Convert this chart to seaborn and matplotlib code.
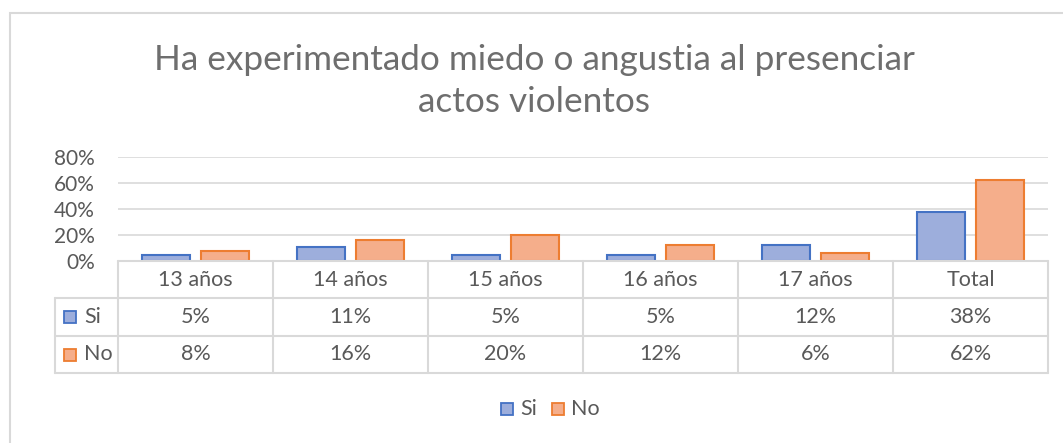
import pandas as pd
import matplotlib.pyplot as plt
import seaborn as sns
from matplotlib.patches import Rectangle

# chart values
categories = ['13 años', '14 años', '15 años', '16 años', '17 años', 'Total']
si_values = [5, 11, 5, 5, 12, 38]
no_values = [8, 16, 20, 12, 6, 62]
series = ['Si', 'No']
title = 'Ha experimentado miedo o angustia al presenciar\nactos violentos'

df = pd.DataFrame({
    'categoria': categories * 2,
    'serie': ['Si'] * len(categories) + ['No'] * len(categories),
    'valor': [v / 100 for v in si_values + no_values],
})

W, H = 1063, 443
grey_txt = '#595959'
grid_col = '#D9D9D9'
fills = {'Si': '#9DAEDC', 'No': '#F5AE8B'}
edges = {'Si': '#4472C4', 'No': '#ED7D31'}

sns.set_style('white')
plt.rcParams['font.family'] = ['Lato', 'DejaVu Sans']

fig = plt.figure(figsize=(W / 100, H / 100), dpi=100)

def fx(px):
    return px / W

def fy(py):
    return 1 - py / H

# outer chart border
fig.add_artist(Rectangle((fx(10), fy(H + 5)), fx(W + 5) - fx(10), fy(13) - fy(H + 5),
                         transform=fig.transFigure, fill=False, ec='#D9D9D9', lw=1.5))

left, right, top, bottom = 118, 1048, 157, 261
ax = fig.add_axes([fx(left), fy(bottom), fx(right) - fx(left), fy(top) - fy(bottom)])
sns.barplot(data=df, x='categoria', y='valor', hue='serie', order=categories,
            hue_order=series, palette=fills, width=0.76, gap=0.18,
            linewidth=1.5, legend=False, ax=ax)
for cont, s in zip(ax.containers, series):
    for bar in cont:
        bar.set_edgecolor(edges[s])
        bar.set_facecolor(fills[s])

ax.set_xlim(-0.5, len(categories) - 0.5)
ax.set_ylim(0, 0.8)
ax.set_yticks([0, 0.2, 0.4, 0.6, 0.8])
ax.set_yticklabels(['0%', '20%', '40%', '60%', '80%'])
ax.tick_params(axis='y', length=0, pad=16.5, labelsize=15, labelcolor=grey_txt)
ax.set_xticks([])
ax.set_xlabel('')
ax.set_ylabel('')
ax.yaxis.grid(True, color=grid_col, lw=1.2)
ax.set_axisbelow(True)
for sp in ax.spines.values():
    sp.set_visible(False)

# data table below the plot
col_w = (right - left) / len(categories)
rows_y = [261, 298, 336, 373]
line_kw = dict(color=grid_col, lw=1.5, transform=fig.transFigure)
fig.add_artist(plt.Line2D([fx(left), fx(right)], [fy(rows_y[0])] * 2, **line_kw))
for yy in rows_y[1:]:
    fig.add_artist(plt.Line2D([fx(55), fx(right)], [fy(yy)] * 2, **line_kw))
for i in range(len(categories) + 1):
    xx = left + i * col_w
    fig.add_artist(plt.Line2D([fx(xx)] * 2, [fy(rows_y[0]), fy(rows_y[-1])], **line_kw))
fig.add_artist(plt.Line2D([fx(55)] * 2, [fy(rows_y[1]), fy(rows_y[-1])], **line_kw))

cell_fs = 15.5
for i, cat in enumerate(categories):
    cx = left + (i + 0.5) * col_w
    fig.text(fx(cx), fy((rows_y[0] + rows_y[1]) / 2), cat, ha='center', va='center',
             color=grey_txt, fontsize=cell_fs)
    fig.text(fx(cx), fy((rows_y[1] + rows_y[2]) / 2), f'{si_values[i]}%', ha='center',
             va='center', color=grey_txt, fontsize=cell_fs)
    fig.text(fx(cx), fy((rows_y[2] + rows_y[3]) / 2), f'{no_values[i]}%', ha='center',
             va='center', color=grey_txt, fontsize=cell_fs)

# legend keys inside the table
for r, s in enumerate(series):
    yc = (rows_y[r + 1] + rows_y[r + 2]) / 2
    fig.add_artist(Rectangle((fx(64), fy(yc + 6)), fx(12), fy(0) - fy(12),
                             transform=fig.transFigure, fc=fills[s], ec=edges[s], lw=1.3))
    fig.text(fx(84), fy(yc), s, ha='left', va='center', color=grey_txt, fontsize=cell_fs)

# bottom legend
leg_y = 409
for s, kx in zip(series, [501, 552]):
    fig.add_artist(Rectangle((fx(kx), fy(leg_y + 6)), fx(12), fy(0) - fy(12),
                             transform=fig.transFigure, fc=fills[s], ec=edges[s], lw=1.3))
    fig.text(fx(kx + 19), fy(leg_y), s, ha='left', va='center', color=grey_txt, fontsize=cell_fs)

fig.text(fx(534), fy(81), title, ha='center', va='center', color='#6E6E6E',
         fontsize=25.3, linespacing=1.38)

fig.savefig('out.png', dpi=100)
